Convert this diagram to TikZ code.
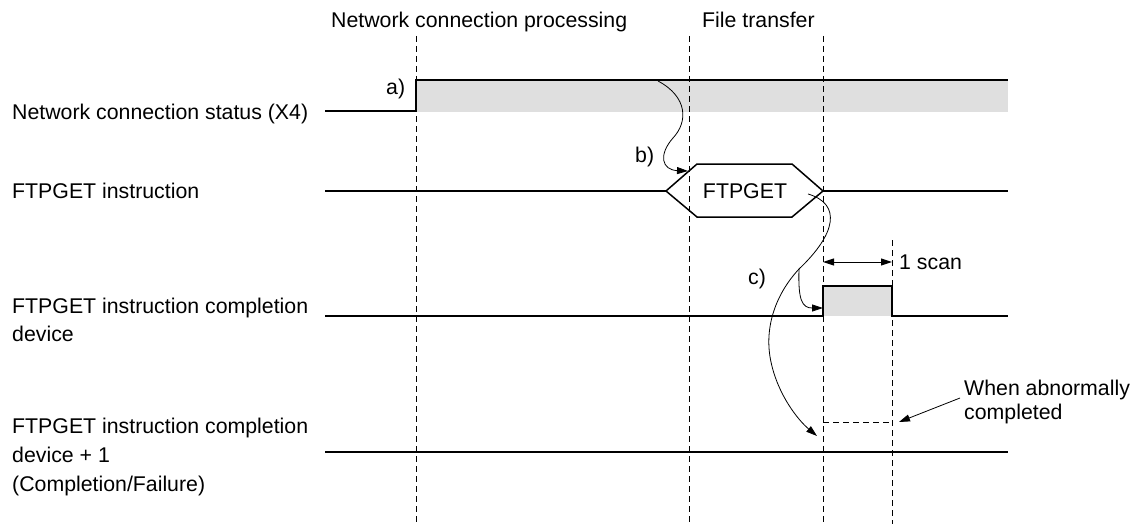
\documentclass[tikz,border=0pt]{standalone}
\usepackage{fontspec}
\setmainfont{Liberation Sans}
\usetikzlibrary{arrows.meta}
\definecolor{shadegray}{RGB}{223,223,223}
\begin{document}
\begin{tikzpicture}[x=1pt,y=-1pt,
  lbl/.style={anchor=base west,inner sep=0pt,font=\fontsize{21.3}{25}\selectfont},
  sig/.style={line width=2pt},
  guide/.style={dash pattern=on 6pt off 4pt,line width=1pt},
  flow/.style={line width=0.8pt,-{Triangle[length=11pt,width=7pt]}},
  dim/.style={line width=1pt,{Triangle[length=11pt,width=7pt]}-{Triangle[length=11pt,width=7pt]}},
  shade/.style={fill=shadegray}]
\useasboundingbox (0,0) rectangle (1141,527);
% fills
\fill[shade] (416,80) rectangle (1008,112);
\fill[shade] (823,286) rectangle (892,316);
% guides
\draw[guide] (416,36) -- (416,524);
\draw[guide] (689,36) -- (689,524);
\draw[guide] (823,36) -- (823,524);
\draw[guide] (892,240) -- (892,524);
\draw[guide] (823,422) -- (892,422);
% headers
\node[lbl] (h1) at (331,28) {Network connection processing};
\node[lbl] (h2) at (702,28) {File transfer};
% left labels
\node[lbl] (l1) at (12,119) {Network connection status (X4)};
\node[lbl] (l2) at (12,198) {FTPGET instruction};
\node[lbl] (l3a) at (12,313) {FTPGET instruction completion};
\node[lbl] (l3b) at (12,341) {device};
\node[lbl] (l4a) at (12,433) {FTPGET instruction completion};
\node[lbl] (l4b) at (12,462) {device + 1};
\node[lbl] (l4c) at (12,491) {(Completion/Failure)};
% signal 1
\draw[sig] (325,111) -- (416,111) -- (416,80) -- (1008,80);
% signal 2
\draw[sig] (325,191) -- (666,191);
\draw[line width=1.5pt] (666,191) -- (697,164) -- (792,164) -- (823,191) -- (792,217) -- (697,217) -- cycle;
\draw[sig] (823,191) -- (1008,191);
\node[lbl,anchor=base] (ftp) at (745,198) {FTPGET};
% signal 3
\draw[sig] (325,316) -- (823,316) -- (823,286) -- (892,286) -- (892,316) -- (1008,316);
% signal 4
\draw[sig] (325,452) -- (1008,452);
% labels a b c
\node[lbl] (la) at (386,95) {a)};
\node[lbl] (lb) at (635,162) {b)};
\node[lbl] (lc) at (748,284) {c)};
% 1 scan
\coordinate (s1) at (823,262);
\coordinate (s2) at (892,262);
\draw[dim] (s1) -- (s2);
\node[lbl,anchor=west] (scan) at (899,262) {1 scan};
% abnormal
\node[lbl] (ab1) at (964,395) {When abnormally};
\node[lbl] (ab2) at (964,419) {completed};
\coordinate (abs) at (960,398);
\coordinate (abe) at (899,422);
\draw[flow] (abs) -- (abe);
% curve b
\coordinate (bs) at (658,81);
\coordinate (be) at (688,171);
\draw[flow] (bs) .. controls (688,97) and (688,122) .. (673,138) .. controls (658,155) and (662,170) .. (be);
% curve c
\coordinate (cs) at (808,194);
\coordinate (cm) at (799,269);
\coordinate (ce) at (817,436);
\coordinate (ce2) at (823,308);
\draw[line width=0.8pt] (cs) .. controls (842,204) and (836,234) .. (cm);
\draw[flow] (cm) .. controls (774,296) and (764,330) .. (771,362) .. controls (778,395) and (798,420) .. (ce);
\draw[flow] (cm) .. controls (798,300) and (802,308) .. (ce2);
\end{tikzpicture}
\end{document}
